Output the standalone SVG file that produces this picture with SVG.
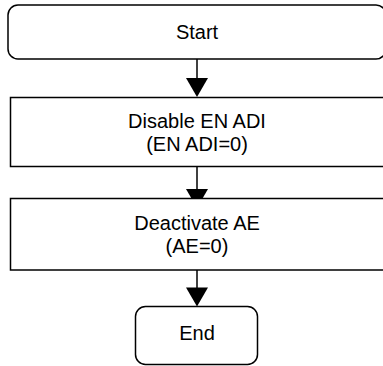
<svg xmlns="http://www.w3.org/2000/svg" width="383" height="366" viewBox="0 0 383 366">
<style>
.box{fill:#fff;stroke:#000;stroke-width:1.5}
.lbl{font-family:"Liberation Sans",Arial,sans-serif;font-size:20px;fill:#000;text-anchor:middle}
.ln{stroke:#000;stroke-width:1.5;fill:none}
.ah{fill:#000;stroke:none}
</style>
<rect width="383" height="366" fill="#fff"/>
<g id="connectors">
<line class="ln" x1="197" y1="59" x2="197" y2="80"/>
<polygon class="ah" points="186,78 208,78 197,97"/>
<line class="ln" x1="197" y1="166.5" x2="197" y2="191"/>
<polygon class="ah" points="186,189 208,189 197,208"/>
<line class="ln" x1="197" y1="270" x2="197" y2="289"/>
<polygon class="ah" points="186,287.5 208,287.5 197,306.5"/>
</g>
<g id="start">
<rect class="box" x="8" y="5" width="378" height="54" rx="10"/>
<text class="lbl" x="197" y="39">Start</text>
</g>
<g id="disable">
<rect class="box" x="10.5" y="97.5" width="376" height="69"/>
<text class="lbl" x="197" y="128">Disable EN ADI</text>
<text class="lbl" x="197" y="150.5">(EN ADI=0)</text>
</g>
<g id="deactivate">
<rect class="box" x="10.5" y="198.5" width="376" height="71.5"/>
<text class="lbl" x="197" y="229.5">Deactivate AE</text>
<text class="lbl" x="197" y="252.5">(AE=0)</text>
</g>
<g id="end">
<rect class="box" x="135.5" y="306.5" width="122" height="58" rx="10"/>
<text class="lbl" x="197" y="340">End</text>
</g>
</svg>
